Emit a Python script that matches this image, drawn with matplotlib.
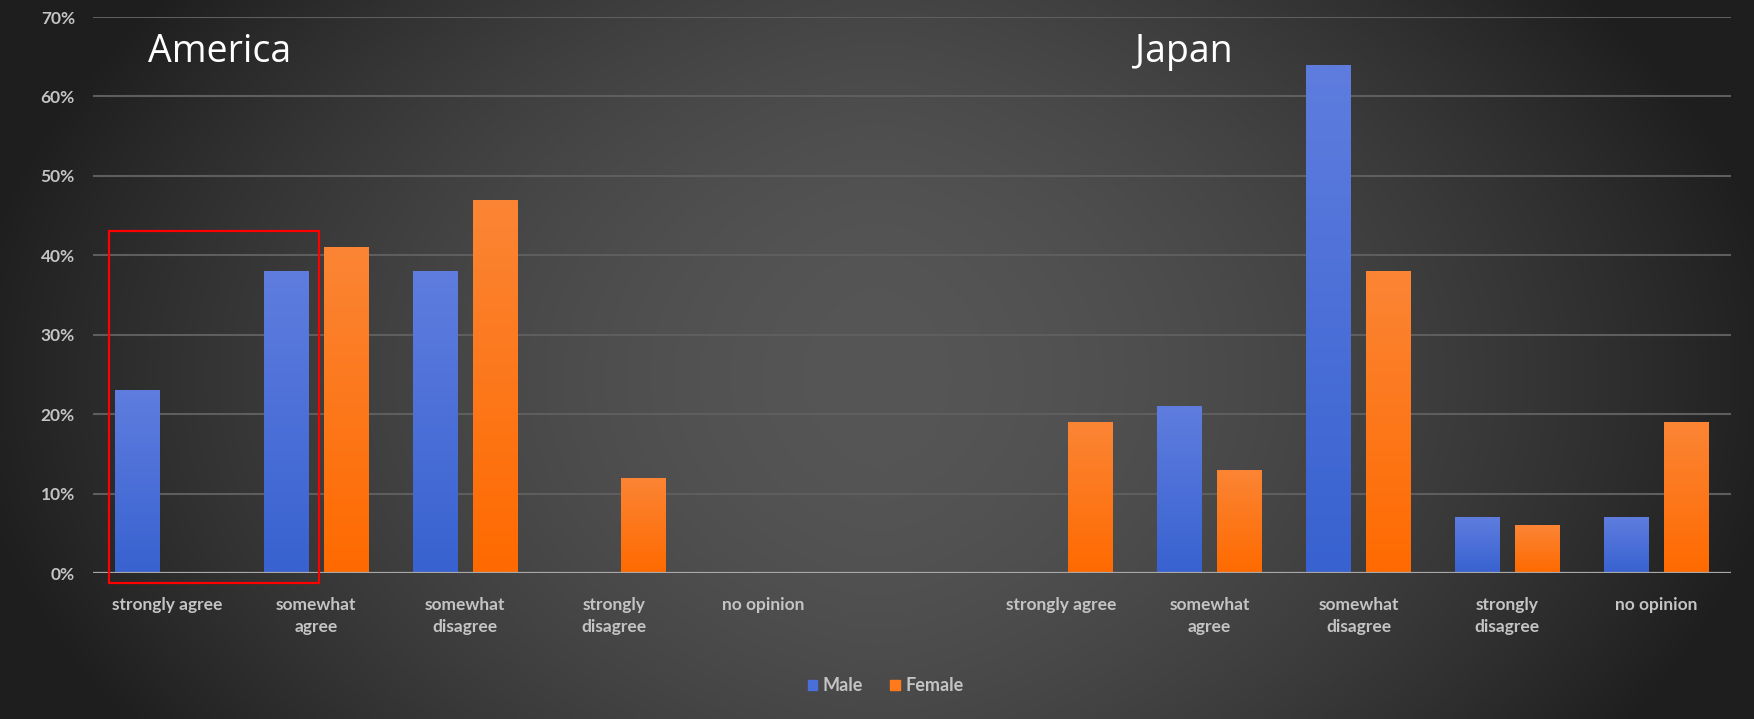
import numpy as np
import matplotlib
matplotlib.use("Agg")
import matplotlib.pyplot as plt
from matplotlib.patches import Rectangle, Patch
from matplotlib.colors import LinearSegmentedColormap

# data
answers = ["strongly agree", "somewhat\nagree", "somewhat\ndisagree",
           "strongly\ndisagree", "no opinion"]
groups = ["America", "Japan"]
america_male = [0.23, 0.38, 0.38, 0.0, 0.0]
america_female = [0.0, 0.41, 0.47, 0.12, 0.0]
japan_male = [0.0, 0.21, 0.64, 0.07, 0.07]
japan_female = [0.19, 0.13, 0.38, 0.06, 0.19]
yticks = [0, 0.1, 0.2, 0.3, 0.4, 0.5, 0.6, 0.7]

# one empty slot between the two countries
pos_am = np.arange(5)
pos_jp = np.arange(5) + 6
positions = np.concatenate([pos_am, pos_jp])
labels = answers + answers
male = np.array(america_male + japan_male)
female = np.array(america_female + japan_female)

fig = plt.figure(figsize=(17.54, 7.19), dpi=100)

# dark radial background
bg = fig.add_axes([0, 0, 1, 1], zorder=-10)
gx, gy = np.meshgrid(np.linspace(-1, 1, 400), np.linspace(-1, 1, 200))
v = 86 - 52 * np.abs(gx) ** 1.6 - 16 * np.abs(gy - 0.05) ** 2
v = np.clip(v, 30, 90) / 255.0
bg.imshow(np.dstack([v, v, v]), extent=[0, 1, 0, 1], aspect="auto",
          interpolation="bilinear")
bg.axis("off")

ax = fig.add_axes([0.0530, 0.203, 0.9337, 0.7733])
ax.set_facecolor("none")

w = 0.30
off = 0.20
blue_cm = LinearSegmentedColormap.from_list("b", ["#3862d0", "#5f7ddf"])
orange_cm = LinearSegmentedColormap.from_list("o", ["#ff6a00", "#fb8535"])
grad = np.linspace(0, 1, 256).reshape(-1, 1)

def grad_bars(xs, vals, cmap):
    for x, h in zip(xs, vals):
        if h <= 0:
            continue
        r = ax.bar(x, h, width=w, color="none", edgecolor="none", zorder=3)[0]
        im = ax.imshow(grad, cmap=cmap, origin="lower", aspect="auto",
                       extent=[x - w / 2, x + w / 2, 0, h], zorder=3)
        im.set_clip_path(r)

grad_bars(positions - off, male, blue_cm)
grad_bars(positions + off, female, orange_cm)
ax.set_xlim(-0.5, 10.5)
ax.set_ylim(0, 0.70)

# grid
ax.set_yticks(yticks)
ax.set_yticklabels([f"{int(round(t * 100))}%" for t in yticks])
ax.yaxis.grid(True, color="#5e5e5e", lw=1.5)
ax.set_axisbelow(True)
ax.axhline(0, color="#a8a8a8", lw=1.6, zorder=4)
for s in ax.spines.values():
    s.set_visible(False)

ax.set_xticks(positions)
ax.set_xticklabels(labels)
ax.tick_params(length=0)
ax.tick_params(axis="x", pad=17, colors="#c4c4c4", labelsize=12.5)
ax.tick_params(axis="y", pad=13, colors="#c4c4c4", labelsize=12.5)
for t in ax.get_xticklabels() + ax.get_yticklabels():
    t.set_fontfamily("Lato")
    t.set_fontweight("bold")
    t.set_linespacing(1.45)

# country headers
ax.text(-0.13, 0.644, groups[0], color="white", fontsize=27,
        family="Open Sans", va="baseline", ha="left")
ax.text(6.50, 0.644, groups[1], color="white", fontsize=27,
        family="Open Sans", va="baseline", ha="left")

# red highlight box
ax.add_patch(Rectangle((-0.39, -0.013), 1.41, 0.443, fill=False,
                       edgecolor="#ff0000", lw=1.6, clip_on=False, zorder=6))

handles = [Patch(color="#4a6fd8", label="Male"),
           Patch(color="#ff7a1a", label="Female")]
leg = fig.legend(handles=handles, loc="center", bbox_to_anchor=(0.505, 0.046),
                 ncol=2, frameon=False, handlelength=0.55, handleheight=0.55,
                 handletextpad=0.3, columnspacing=1.5,
                 prop={"family": "Lato", "weight": "bold", "size": 13})
for t in leg.get_texts():
    t.set_color("#c4c4c4")

plt.savefig("out.png", dpi=100)
